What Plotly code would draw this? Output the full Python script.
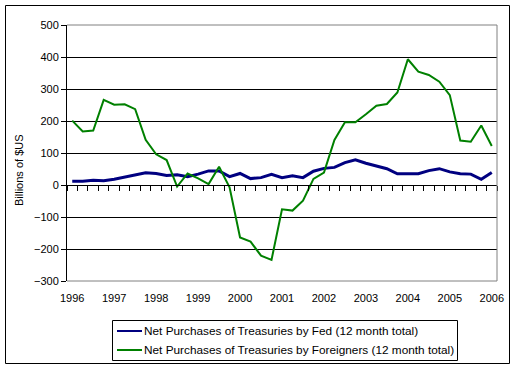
import plotly.graph_objects as go

# Quarterly data, 1996 Q1 .. 2006 Q1 (billions of $US, 12 month totals)
year_labels = ["1996", "1997", "1998", "1999", "2000", "2001",
               "2002", "2003", "2004", "2005", "2006"]
quarters = [f"{y} Q{q}" for y in range(1996, 2007) for q in range(1, 5)][:41]

fed = [12, 12, 15, 13, 18, 25, 30, 38, 36, 30, 32, 26, 34, 44, 44, 26, 36,
       20, 23, 33, 23, 29, 23, 43, 52, 55, 70, 79, 68, 60, 51, 35, 35, 35,
       45, 51, 41, 35, 34, 18, 39]
foreign = [201, 167, 170, 266, 251, 252, 237, 141, 96, 78, -5, 36, 21, 3,
           57, -7, -164, -177, -221, -234, -76, -80, -49, 19, 39, 141, 196,
           196, 221, 248, 253, 289, 393, 354, 344, 323, 281, 139, 135, 186,
           122]
series_names = ["Net Purchases of Treasuries by Fed (12 month total)",
                "Net Purchases of Treasuries by Foreigners (12 month total)"]
series_colors = ["#000080", "#008000"]

FONT = "Arial, Liberation Sans, sans-serif"
idx = list(range(len(quarters)))

fig = go.Figure()
# invisible helper on the main (label) x axis
fig.add_trace(go.Scatter(x=idx, y=fed, mode="lines", opacity=0,
                         line=dict(width=0), showlegend=False,
                         hoverinfo="skip"))
fig.add_trace(go.Scatter(x=idx, y=fed, mode="lines", name=series_names[0],
                         xaxis="x2", yaxis="y",
                         line=dict(color=series_colors[0], width=3),
                         text=quarters, showlegend=False))
fig.add_trace(go.Scatter(x=idx, y=foreign, mode="lines", name=series_names[1],
                         xaxis="x2", yaxis="y",
                         line=dict(color=series_colors[1], width=2),
                         text=quarters, showlegend=False))

W, H = 516, 370
L, R, T, B = 67, 19, 25, 89
pw, ph = W - L - R, H - T - B

def px(xp):
    return (xp - L) / pw

def py(yp):
    return (H - B - yp) / ph

fig.update_layout(
    width=W, height=H,
    margin=dict(l=L, r=R, t=T, b=B),
    paper_bgcolor="white", plot_bgcolor="white",
    font=dict(family=FONT, size=11, color="black"),
    xaxis=dict(range=[-0.5, len(quarters) - 0.5],
               tickvals=[4 * i for i in range(len(year_labels))],
               ticktext=year_labels,
               ticks="outside", ticklen=7, tickcolor="rgba(0,0,0,0)",
               showgrid=False, zeroline=False, showline=False,
               tickfont=dict(size=11, color="black")),
    xaxis2=dict(overlaying="x", anchor="free",
                position=(0 - (-300)) / 800,
                range=[-0.5, len(quarters) - 0.5],
                tick0=-0.5, dtick=1,
                ticks="outside", ticklen=5, tickcolor="black", tickwidth=1,
                showticklabels=False, showgrid=False, zeroline=False,
                showline=True, linecolor="black", linewidth=1),
    yaxis=dict(range=[-300, 500], dtick=100,
               showgrid=True, gridcolor="black", gridwidth=1,
               zeroline=False, showline=True, linecolor="black", linewidth=1,
               ticks="outside", ticklen=5, tickcolor="black",
               tickfont=dict(size=11, color="black")),
)

shapes = []
# plot-area border (gray) on top, right, bottom
for (x0, y0, x1, y1) in [(0, 1, 1, 1), (1, 0, 1, 1), (0, 0, 1, 0)]:
    shapes.append(dict(type="line", xref="paper", yref="paper",
                       x0=x0, y0=y0, x1=x1, y1=y1,
                       line=dict(color="#808080", width=1), layer="above"))
# outer chart border
shapes.append(dict(type="rect", xref="paper", yref="paper",
                   x0=px(5.5), x1=px(509.5), y0=py(363.5), y1=py(5.5),
                   line=dict(color="black", width=1)))
# legend box
shapes.append(dict(type="rect", xref="paper", yref="paper",
                   x0=px(112.5), x1=px(457.5), y0=py(360.5), y1=py(320.5),
                   line=dict(color="black", width=1)))
annotations = []
for k, (nm, col, ypix) in enumerate(zip(series_names, series_colors, [331, 350])):
    shapes.append(dict(type="line", xref="paper", yref="paper",
                       x0=px(117), x1=px(142), y0=py(ypix), y1=py(ypix),
                       line=dict(color=col, width=2)))
    annotations.append(dict(xref="paper", yref="paper", x=px(142), y=py(ypix),
                            xanchor="left", yanchor="middle", showarrow=False,
                            text=nm, font=dict(size=11.8, color="black")))
annotations.append(dict(xref="paper", yref="paper", x=px(19), y=py(170),
                        xanchor="center", yanchor="middle", showarrow=False,
                        textangle=-90, text="Billions of $US",
                        font=dict(size=11, color="black")))
fig.update_layout(shapes=shapes, annotations=annotations)

fig.write_html("out.html",
               config={"displayModeBar": False},
               post_script="document.body.style.margin='0';")
